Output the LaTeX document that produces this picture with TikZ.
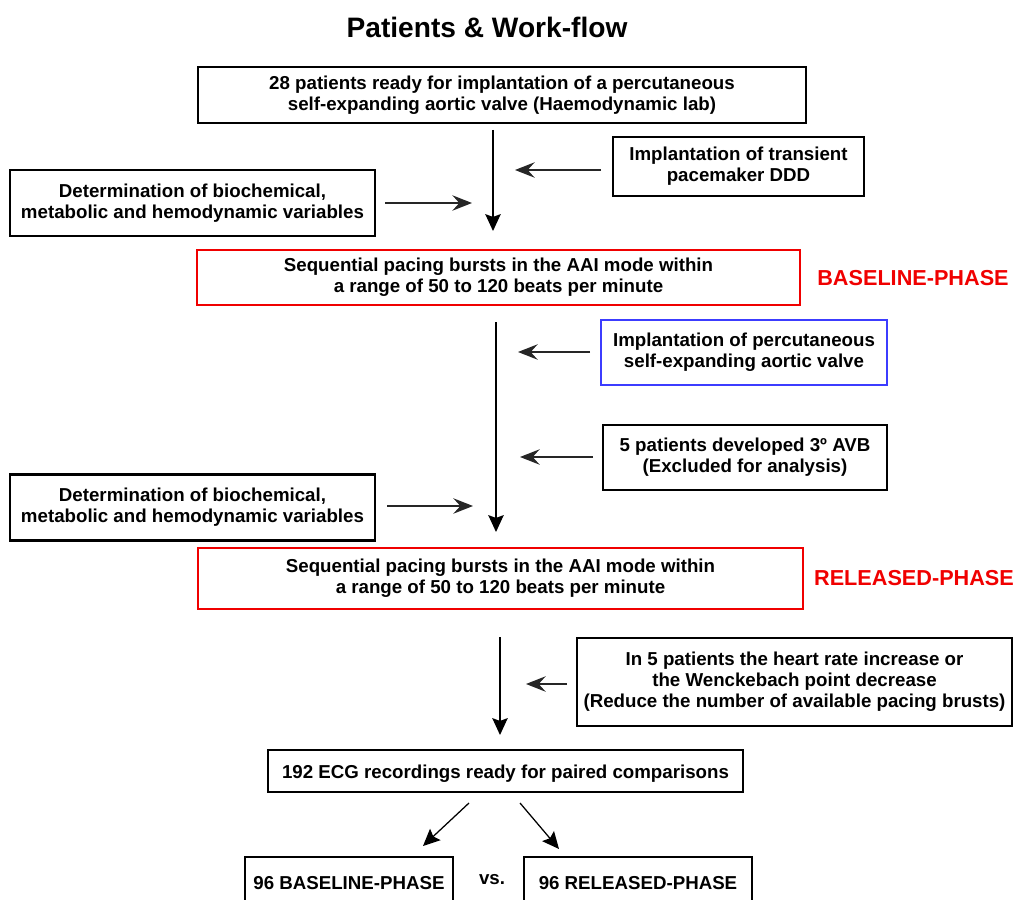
\documentclass[tikz,border=0pt]{standalone}
\usepackage{fontspec}
\setmainfont{Liberation Sans}
\usepackage{tikz}
\usetikzlibrary{arrows.meta}
\definecolor{phasered}{RGB}{240,0,0}
\definecolor{valveblue}{RGB}{60,60,255}

\begin{document}
\begin{tikzpicture}[x=0.025cm,y=-0.025cm,
	box/.style={draw=black,line width=1.5pt,align=center,inner sep=0pt,
		font=\fontsize{13.3}{15}\selectfont\bfseries,
		execute at begin node={\rule{0pt}{14pt}}},
	redbox/.style={box,draw=phasered},
	bluebox/.style={box,draw=valveblue},
	phase/.style={text=phasered,font=\fontsize{15.4}{18}\selectfont\bfseries},
	flow/.style={line width=0.9pt,-{Stealth[length=12pt,width=11pt,inset=2pt]}},
	side/.style={line width=0.9pt,draw=black!85,-{Stealth[length=14pt,width=11pt,inset=5pt]}}]
	\useasboundingbox (0,0) rectangle (1015,900);
	
	\node (title) at (487,27) {\fontsize{20}{22}\selectfont\bfseries Patients \& Work-flow};
	
	\node[box,minimum width=15.2cm,minimum height=1.4cm] (patients) at (502,95)
		{28 patients ready for implantation of a percutaneous\\self-expanding aortic valve (Haemodynamic lab)};
	\node[box,minimum width=6.275cm,minimum height=1.475cm] (pacer) at (738.5,166.5)
		{Implantation of transient\\pacemaker DDD};
	\node[box,minimum width=9.125cm,minimum height=1.65cm] (detA) at (192.5,203)
		{Determination of biochemical,\\metabolic and hemodynamic variables};
	
	\node[redbox,minimum width=15.075cm,minimum height=1.375cm] (baseline) at (498.5,277.5)
		{Sequential pacing bursts in the AAI mode within\\a range of 50 to 120 beats per minute};
	\node[phase] (basename) at (913,278) {BASELINE-PHASE};
	
	\node[bluebox,minimum width=7.15cm,minimum height=1.625cm] (valve) at (744,352.5)
		{Implantation of percutaneous\\self-expanding aortic valve};
	\node[box,minimum width=7.1cm,minimum height=1.625cm] (avb) at (745,457.5)
		{5 patients developed 3º AVB\\(Excluded for analysis)};
	\node[box,minimum width=9.125cm,minimum height=1.65cm] (detB) at (192.5,507.5)
		{Determination of biochemical,\\metabolic and hemodynamic variables};
	
	\node[redbox,minimum width=15.125cm,minimum height=1.525cm] (released) at (500.5,578.5)
		{Sequential pacing bursts in the AAI mode within\\a range of 50 to 120 beats per minute};
	\node[phase] (relname) at (914,578) {RELEASED-PHASE};
	
	\node[box,minimum width=10.875cm,minimum height=2.2cm] (reduce) at (794.5,682)
		{In 5 patients the heart rate increase or\\the Wenckebach point decrease\\(Reduce the number of available pacing brusts)};
	
	\node[box,minimum width=11.875cm,minimum height=1.05cm] (ecg) at (505.5,771)
		{192 ECG recordings ready for paired comparisons};
	\node[box,minimum width=5.2cm,minimum height=1.15cm] (base96) at (349,880)
		{96 BASELINE-PHASE};
	\node[box,minimum width=5.7cm,minimum height=1.15cm] (rel96) at (638,880)
		{96 RELEASED-PHASE};
	\node[font=\fontsize{13.3}{15}\selectfont\bfseries] (vs) at (492,880) {vs.};
	
	% free ends of the arrows
	\coordinate (v1a) at (493,130);  \coordinate (v1b) at (493,231);
	\coordinate (h1a) at (601,170);  \coordinate (h1b) at (515,170);
	\coordinate (h2a) at (385,203);  \coordinate (h2b) at (472,203);
	\coordinate (v2a) at (496,322);  \coordinate (v2b) at (496,532);
	\coordinate (h3a) at (590,352);  \coordinate (h3b) at (518,352);
	\coordinate (h4a) at (593,457);  \coordinate (h4b) at (520,457);
	\coordinate (h5a) at (387,506);  \coordinate (h5b) at (473,506);
	\coordinate (v3a) at (500,637);  \coordinate (v3b) at (500,735);
	\coordinate (h6a) at (567,684);  \coordinate (h6b) at (526,684);
	\coordinate (d1a) at (469,803);  \coordinate (d1b) at (423,846);
	\coordinate (d2a) at (520,803);  \coordinate (d2b) at (559,849);
	
	\draw[flow] (v1a) -- (v1b);
	\draw[side] (h1a) -- (h1b);
	\draw[side] (h2a) -- (h2b);
	\draw[flow] (v2a) -- (v2b);
	\draw[side] (h3a) -- (h3b);
	\draw[side] (h4a) -- (h4b);
	\draw[side] (h5a) -- (h5b);
	\draw[flow] (v3a) -- (v3b);
	\draw[side] (h6a) -- (h6b);
	\draw[flow] (d1a) -- (d1b);
	\draw[flow] (d2a) -- (d2b);
	
\end{tikzpicture}
\end{document}
